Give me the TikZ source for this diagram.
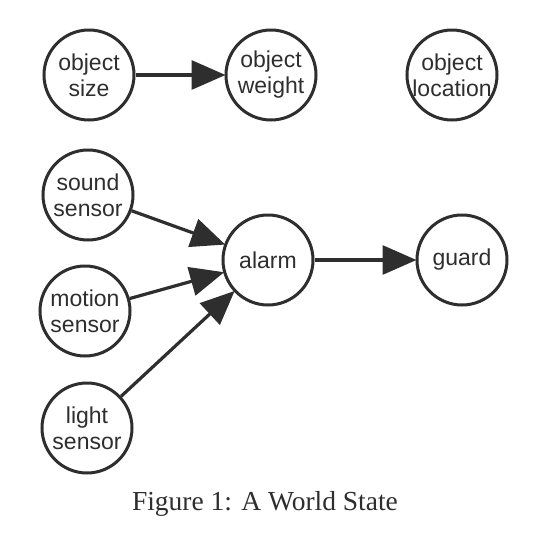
\documentclass[tikz,border=0pt]{standalone}
\usepackage{fontspec}
\setmainfont{Liberation Serif}
\newfontfamily\nodefont{Liberation Sans}
\usetikzlibrary{arrows.meta}
\definecolor{ink}{HTML}{2E2E2E}
\tikzset{
  var/.style={circle, draw=ink, line width=3pt, minimum size=90pt, inner sep=0pt,
    align=center, text=ink, font=\nodefont\fontsize{23}{26}\selectfont},
  link/.style={draw=ink, line width=3.2pt, -{Triangle[length=34pt,width=29pt]}, shorten >=-1pt}
}
\begin{document}
\begin{tikzpicture}[x=1pt,y=-1pt]
\useasboundingbox (0,0) rectangle (542,536);
\node[var] (size) at (89,75) {object\\size};
\node[var] (weight) at (271,75) {object\\weight};
\node[var] (loc) at (452,75) {object\\location};
\node[var] (sound) at (88,195) {sound\\sensor};
\node[var] (motion) at (85,311) {motion\\sensor};
\node[var] (light) at (87,428) {light\\sensor};
\node[var] (alarm) at (268,260) {alarm};
\node[var] (guard) at (462,260) {guard};
\draw[link] (size) -- (weight);
\draw[link] (sound) -- (alarm);
\draw[link] (motion) -- (alarm);
\draw[link] (light) -- (alarm);
\draw[link] (alarm) -- (guard);
\node[text=ink, font=\fontsize{27.5}{32}\selectfont] (cap) at (265,504) {Figure 1: A World State};
\end{tikzpicture}
\end{document}
